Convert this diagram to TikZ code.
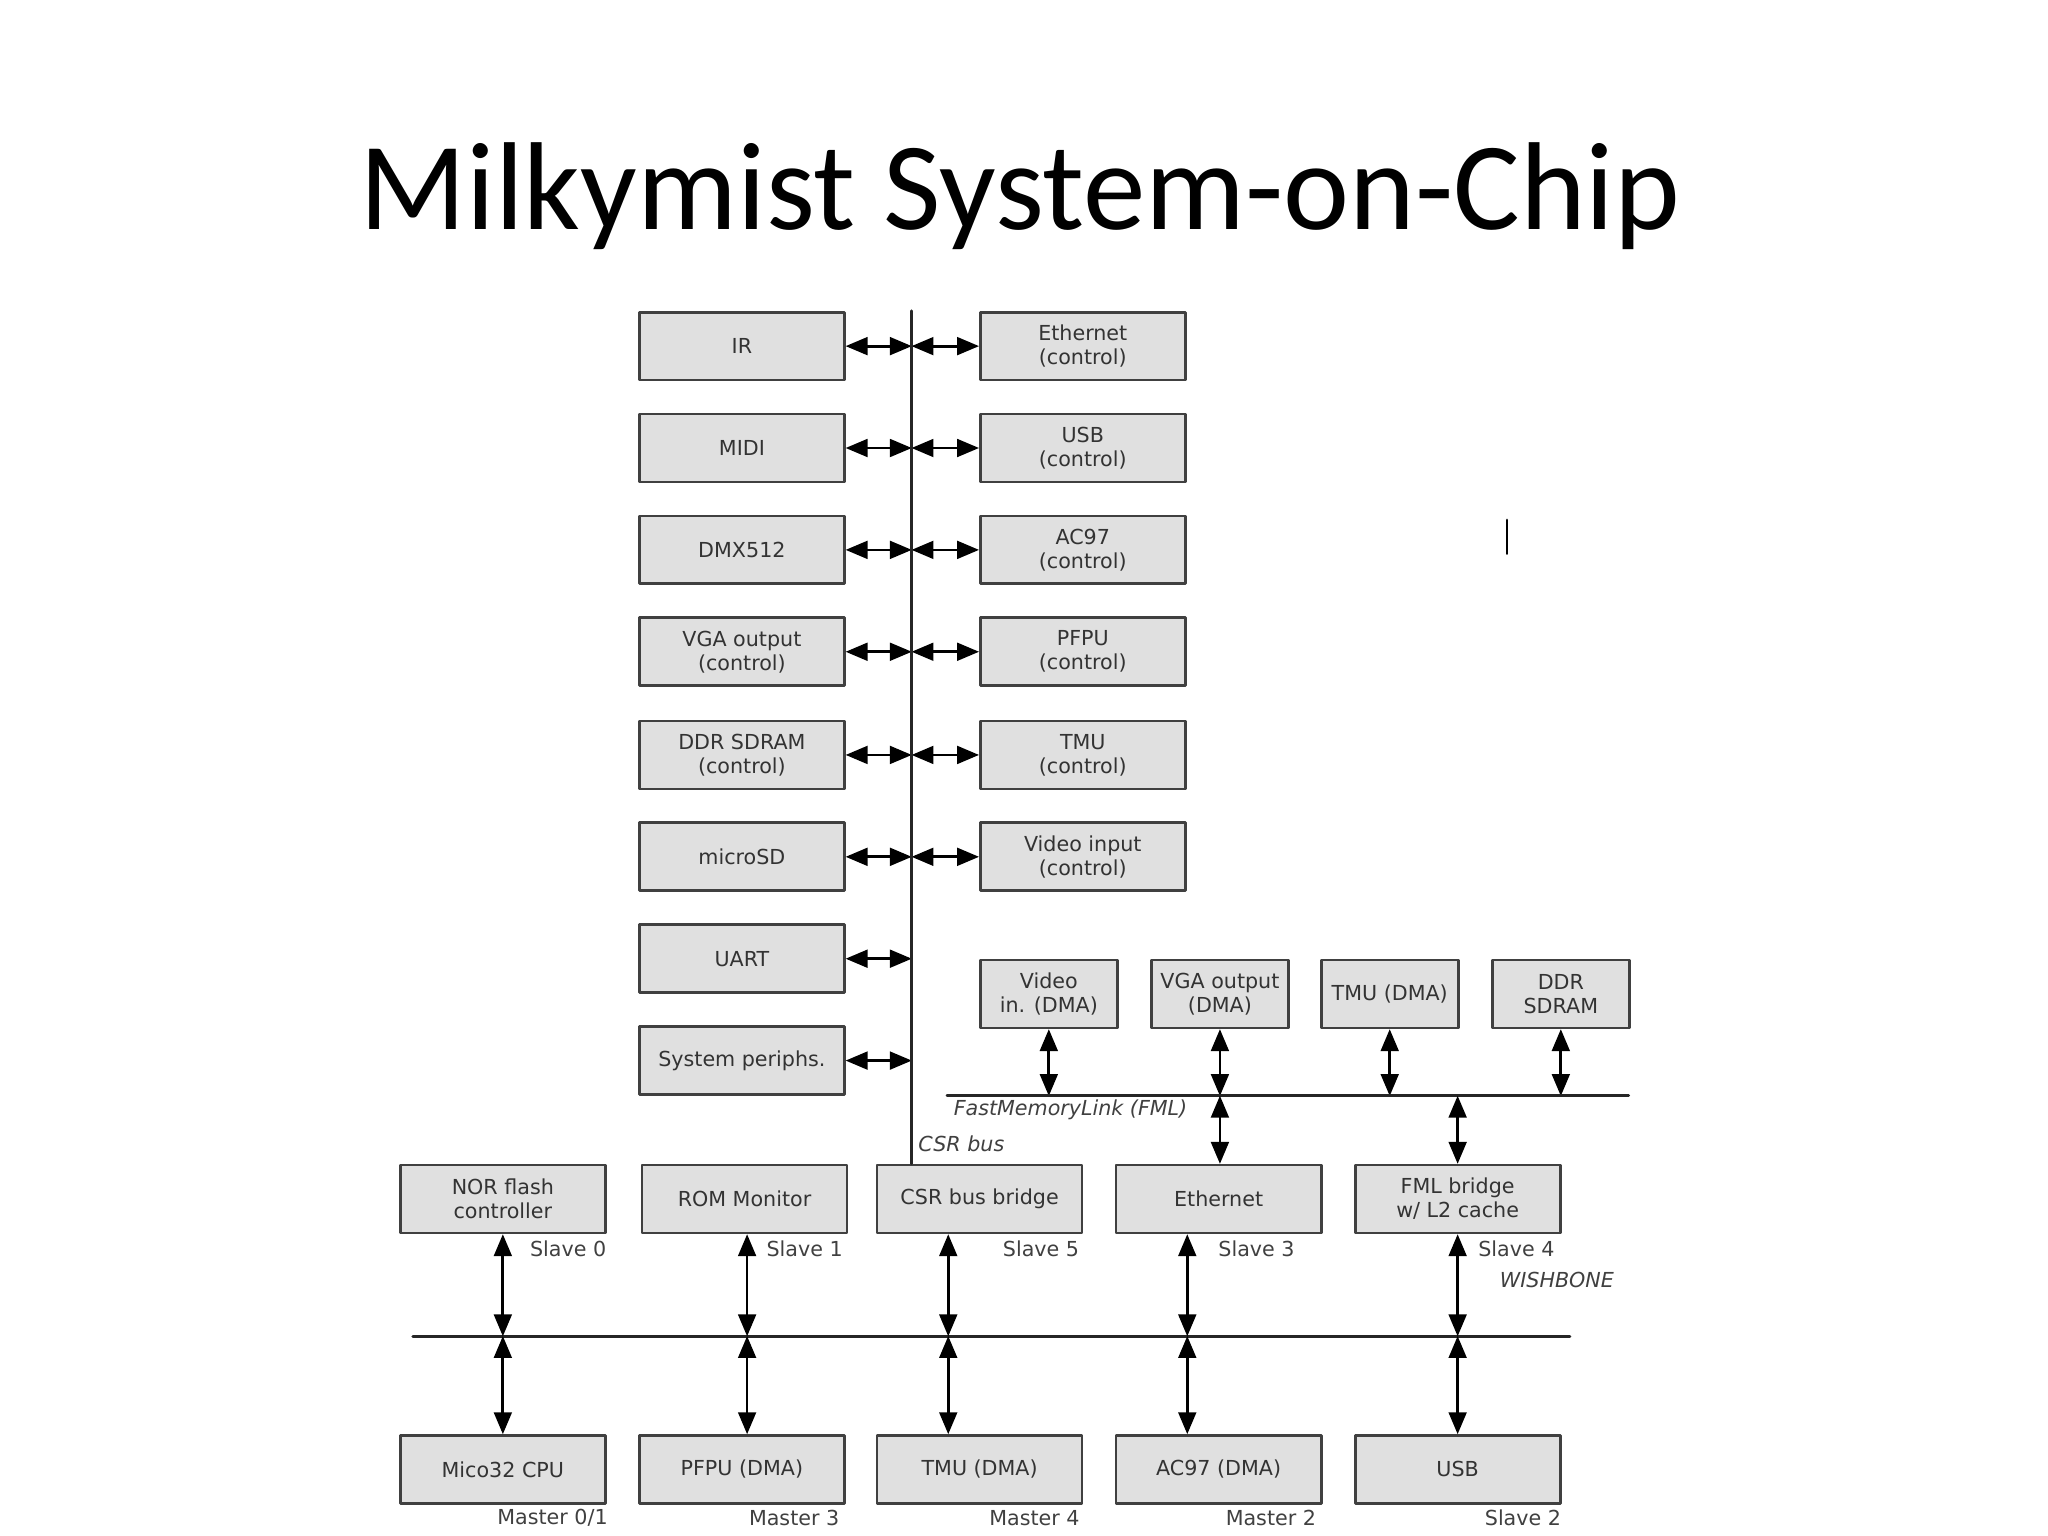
\documentclass[tikz,border=0pt]{standalone}
\usepackage{fontspec}
\setsansfont{DejaVu Sans}
\newfontfamily\titlefont{Carlito}
\usetikzlibrary{calc}
\usetikzlibrary{arrows}

\begin{document}
\begin{tikzpicture}[x=0.02cm, y=-0.02cm, line cap = round, line join = round, >=triangle 45]
\tikzstyle{block}=[draw=black!75, fill=black!12, line width=1.2pt, minimum width=3.14cm, minimum height=1.04cm, align=center, inner sep=1pt, font=\sffamily\fontsize{9}{10.5}\selectfont, text=black!80]
\tikzstyle{fmlblock}=[block, minimum width=2.1cm]
\tikzstyle{busline}=[line width=1.2pt, black!85]
\tikzstyle{link}=[line width=1.2pt, <->]
\tikzstyle{tag}=[font=\sffamily\fontsize{9}{10}\selectfont, text=black!75]
\tikzstyle{itag}=[tag, font=\sffamily\itshape\fontsize{9}{10}\selectfont]
\useasboundingbox (0,0) rectangle (1568,1176);

\node[font=\titlefont\fontsize{54.5}{62}\selectfont] (title) at (781,150) {Milkymist System-on-Chip};
\draw[line width=1pt] (1154,398) -- (1154,424);

% CSR peripherals
\foreach \nm/\txt/\y in {ir/IR/265, midi/MIDI/343, dmx/DMX512/421, vgac/{VGA output\\(control)}/499,
    ddrc/{DDR SDRAM\\(control)}/578, sd/microSD/656, uart/UART/734, sys/System periphs./812}
  {\node[block] (\nm) at (568,\y) {\txt};
   \coordinate (\nm-b) at (698,\y);
   \draw[link] (\nm) -- (\nm-b);}
\foreach \nm/\txt/\y in {ethc/{Ethernet\\(control)}/265, usbc/{USB\\(control)}/343, acc/{AC97\\(control)}/421,
    pfpuc/{PFPU\\(control)}/499, tmuc/{TMU\\(control)}/578, vinc/{Video input\\(control)}/656}
  {\node[block] (\nm) at (829,\y) {\txt};
   \coordinate (\nm-b) at (698,\y);
   \draw[link] (\nm-b) -- (\nm);}

% FML
\foreach \nm/\txt/\x in {vin/{Video\\in. (DMA)}/803, vgad/{VGA output\\(DMA)}/934, tmud/TMU (DMA)/1064, ddr/{DDR\\SDRAM}/1195}
  {\node[fmlblock] (\nm) at (\x,761) {\txt};
   \coordinate (\nm-f) at (\x,839);
   \draw[link] (\nm) -- (\nm-f);}
\coordinate (fmlL) at (725,839);
\coordinate (fmlR) at (1247,839);
\draw[busline] (fmlL) -- (fmlR);
\node[itag, anchor=west] (fmllabel) at (724,850) {FastMemoryLink (FML)};

% WISHBONE slaves
\node[block] (nor) at (385,918) {NOR flash\\controller};
\node[block] (rom) at (570,918) {ROM Monitor};
\node[block] (bridge) at (750,918) {CSR bus bridge};
\node[block] (eth) at (933,918) {Ethernet};
\node[block] (fmlb) at (1116,918) {FML bridge\\w/ L2 cache};
\node[tag] (s0) at (435,956) {Slave 0};
\node[tag] (s1) at (616,956) {Slave 1};
\node[tag] (s5) at (797,956) {Slave 5};
\node[tag] (s3) at (962,956) {Slave 3};
\node[tag] (s4) at (1161,956) {Slave 4};

% CSR bus
\coordinate (csrT) at (698,238);
\draw[busline] (csrT) -- (csrT |- bridge.north);
\node[itag, anchor=west] (csrlabel) at (697,876) {CSR bus};
\draw[link] (vgad-f |- eth.north) -- (vgad-f);
\coordinate (fmlb-f) at (1116,839);
\draw[link] (fmlb.north) -- (fmlb-f);

% WISHBONE
\coordinate (wbL) at (316,1023);
\coordinate (wbR) at (1202,1023);
\draw[busline] (wbL) -- (wbR);
\node[itag] (wblabel) at (1192,980) {WISHBONE};

% masters
\node[block] (cpu) at (385,1125) {Mico32 CPU};
\node[block] (pfpu) at (568,1125) {PFPU (DMA)};
\node[block] (tmu) at (750,1125) {TMU (DMA)};
\node[block] (ac) at (933,1125) {AC97 (DMA)};
\node[block] (usb) at (1116,1125) {USB};
\node[tag] (m0) at (423,1162) {Master 0/1};
\node[tag] (m3) at (608,1162) {Master 3};
\node[tag] (m4) at (792,1162) {Master 4};
\node[tag] (m2) at (973,1162) {Master 2};
\node[tag] (m5) at (1166,1162) {Slave 2};

\foreach \top/\bot/\x in {nor/cpu/385, rom/pfpu/572, bridge/tmu/726, eth/ac/909, fmlb/usb/1116}
  {\coordinate (w\x) at (\x,1023);
   \draw[link] (w\x |- \top.south) -- (w\x);
   \draw[link] (w\x) -- (w\x |- \bot.north);}
\end{tikzpicture}
\end{document}
